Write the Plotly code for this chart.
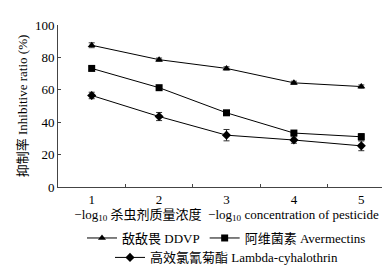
import plotly.graph_objects as go

x_vals = [1, 2, 3, 4, 5]
ddvp = [87.5, 78.6, 73.2, 64.3, 62.0]
ddvp_err = [1.5, 1.0, 1.0, 1.0, 1.0]
aver = [73.2, 61.3, 45.8, 33.3, 31.0]
aver_err = [1.0, 1.0, 1.0, 1.0, 2.0]
lamb = [56.5, 43.5, 32.0, 29.0, 25.4]
lamb_err = [2.0, 2.5, 3.5, 2.0, 3.0]

names = ["敌敌畏 DDVP", "阿维菌素 Avermectins", "高效氯氰菊酯 Lambda-cyhalothrin"]
symbols = ["triangle-up", "square", "diamond"]
legend_ids = ["legend", "legend", "legend2"]

FONT = "Liberation Serif, Times New Roman, Noto Sans CJK SC, serif"
FS = 13

fig = go.Figure()
for ys, es, nm, sym, lg in zip([ddvp, aver, lamb], [ddvp_err, aver_err, lamb_err], names, symbols, legend_ids):
    fig.add_trace(go.Scatter(
        x=x_vals, y=ys, name=nm, mode="lines+markers", legend=lg,
        line=dict(color="black", width=1),
        marker=dict(symbol=sym, size=7, color="black"),
        error_y=dict(type="data", array=es, visible=True, color="#333", thickness=1, width=3),
    ))

leg_common = dict(orientation="h", x=0.5, xanchor="center", yanchor="middle",
                  font=dict(size=FS, family=FONT), tracegroupgap=0, itemwidth=30,
                  traceorder="normal", bgcolor="rgba(0,0,0,0)")

fig.update_layout(
    width=390, height=268,
    margin=dict(l=50, r=3, t=17, b=83),
    paper_bgcolor="white", plot_bgcolor="white",
    font=dict(family=FONT, size=FS, color="black"),
    showlegend=True,
    legend=dict(y=-0.315, **leg_common),
    legend2=dict(y=-0.435, **leg_common),
    xaxis=dict(range=[0.5, 5.5], tickmode="array", tickvals=x_vals,
               ticktext=[str(v) for v in x_vals], ticks="", showgrid=False,
               showline=True, linecolor="#444", linewidth=1, zeroline=False,
               minor=dict(tickvals=[1.5, 2.5, 3.5, 4.5, 5.5], ticks="inside",
                          ticklen=3, tickcolor="#444", showgrid=False),
               title=dict(text="−log<sub>10</sub> 杀虫剂质量浓度  −log<sub>10</sub> concentration of pesticide",
                          font=dict(size=FS), standoff=2),
               tickfont=dict(size=FS)),
    yaxis=dict(range=[0, 100], tickvals=[0, 20, 40, 60, 80, 100], ticks="inside",
               ticklen=3, tickcolor="#444", showgrid=False, showline=True,
               linecolor="#444", linewidth=1, zeroline=False,
               title=dict(text="抑制率 Inhibitive ratio (%)", font=dict(size=FS), standoff=4),
               tickfont=dict(size=FS)),
)

fig.write_html("out.html")
